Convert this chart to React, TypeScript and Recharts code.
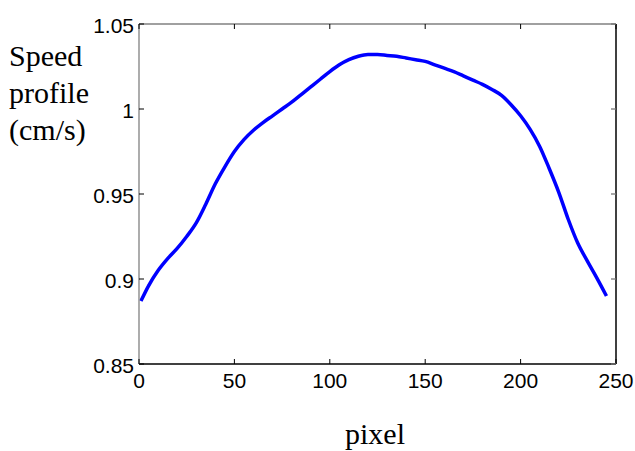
import React from 'react';
import { LineChart, Line, XAxis, YAxis, ReferenceLine } from 'recharts';

// pixel positions along the profile and speed (cm/s)
const PIXELS = [
  1, 5, 10, 15, 20, 25, 30, 35, 40, 45, 50, 55, 60, 65, 70, 75, 80, 85, 90, 95,
  100, 105, 110, 115, 120, 125, 130, 135, 140, 145, 150, 155, 160, 165, 170, 175,
  180, 185, 190, 195, 200, 205, 210, 215, 220, 225, 230, 235, 240, 245,
];
const SPEED = [
  0.887, 0.896, 0.905, 0.912, 0.918, 0.925, 0.933, 0.944, 0.956, 0.966, 0.975,
  0.982, 0.9875, 0.992, 0.996, 1.0, 1.004, 1.0085, 1.013, 1.0175, 1.022, 1.026,
  1.029, 1.031, 1.032, 1.032, 1.0315, 1.031, 1.03, 1.029, 1.028, 1.026, 1.024,
  1.022, 1.0195, 1.017, 1.0145, 1.0115, 1.008, 1.0025, 0.996, 0.988, 0.978,
  0.965, 0.951, 0.935, 0.921, 0.9105, 0.9005, 0.89,
];
const X_TICKS = [0, 50, 100, 150, 200, 250];
const Y_TICKS = [0.85, 0.9, 0.95, 1, 1.05];

const data = PIXELS.map((px, i) => ({ px, speed: SPEED[i] }));

// plot box in page pixels
const PLOT = { left: 139, top: 24, right: 616, bottom: 364 };
const TICK_LEN = 5;
const tickFont = { fontFamily: '"Liberation Sans", Arial, sans-serif', fontSize: 21, fill: '#000' };

function XTick({ x, payload }: any) {
  return (
    <g>
      <line x1={x} x2={x} y1={PLOT.bottom} y2={PLOT.bottom - TICK_LEN} stroke="#000" strokeWidth={1} />
      <line x1={x} x2={x} y1={PLOT.top} y2={PLOT.top + TICK_LEN} stroke="#000" strokeWidth={1} />
      <text x={x} y={PLOT.bottom + 24} textAnchor="middle" {...tickFont}>
        {payload.value}
      </text>
    </g>
  );
}

function YTick({ y, payload }: any) {
  return (
    <g>
      <line x1={PLOT.left} x2={PLOT.left + TICK_LEN} y1={y} y2={y} stroke="#000" strokeWidth={1} />
      <line x1={PLOT.right} x2={PLOT.right - TICK_LEN} y1={y} y2={y} stroke="#777" strokeWidth={1.3} />
      <text x={PLOT.left - 5} y={y} dy="0.45em" textAnchor="end" {...tickFont}>
        {payload.value}
      </text>
    </g>
  );
}

const serif = { fontFamily: '"Liberation Serif", "Times New Roman", serif', fontSize: 30, color: '#000' };

export default function App() {
  return (
    <div style={{ position: 'absolute', left: 0, top: 0, width: 635, height: 451, background: '#fff' }}>
      <LineChart
        width={635}
        height={451}
        data={data}
        margin={{ top: PLOT.top, right: 635 - PLOT.right, bottom: 451 - PLOT.bottom - 30, left: PLOT.left - 60 }}
      >
        <XAxis
          dataKey="px"
          type="number"
          domain={[0, 250]}
          ticks={X_TICKS}
          height={30}
          tickSize={0}
          tick={<XTick />}
          axisLine={{ stroke: '#000', strokeWidth: 1.5 }}
          interval={0}
        />
        <YAxis
          type="number"
          domain={[0.85, 1.05]}
          ticks={Y_TICKS}
          width={60}
          tickSize={0}
          tick={<YTick />}
          axisLine={{ stroke: '#808080', strokeWidth: 1.3 }}
          interval={0}
        />
        <ReferenceLine y={1.05} stroke="#808080" strokeWidth={1.3} />
        <ReferenceLine x={250} stroke="#000" strokeWidth={1.5} />
        <Line
          type="monotone"
          dataKey="speed"
          stroke="#0000ff"
          strokeWidth={3.5}
          dot={false}
          isAnimationActive={false}
        />
      </LineChart>
      <div style={{ ...serif, position: 'absolute', left: 9, top: 37, lineHeight: '37px' }}>
        Speed
        <br />
        profile
        <br />
        (cm/s)
      </div>
      <div style={{ ...serif, position: 'absolute', left: 345, top: 418, lineHeight: '32px' }}>pixel</div>
    </div>
  );
}
